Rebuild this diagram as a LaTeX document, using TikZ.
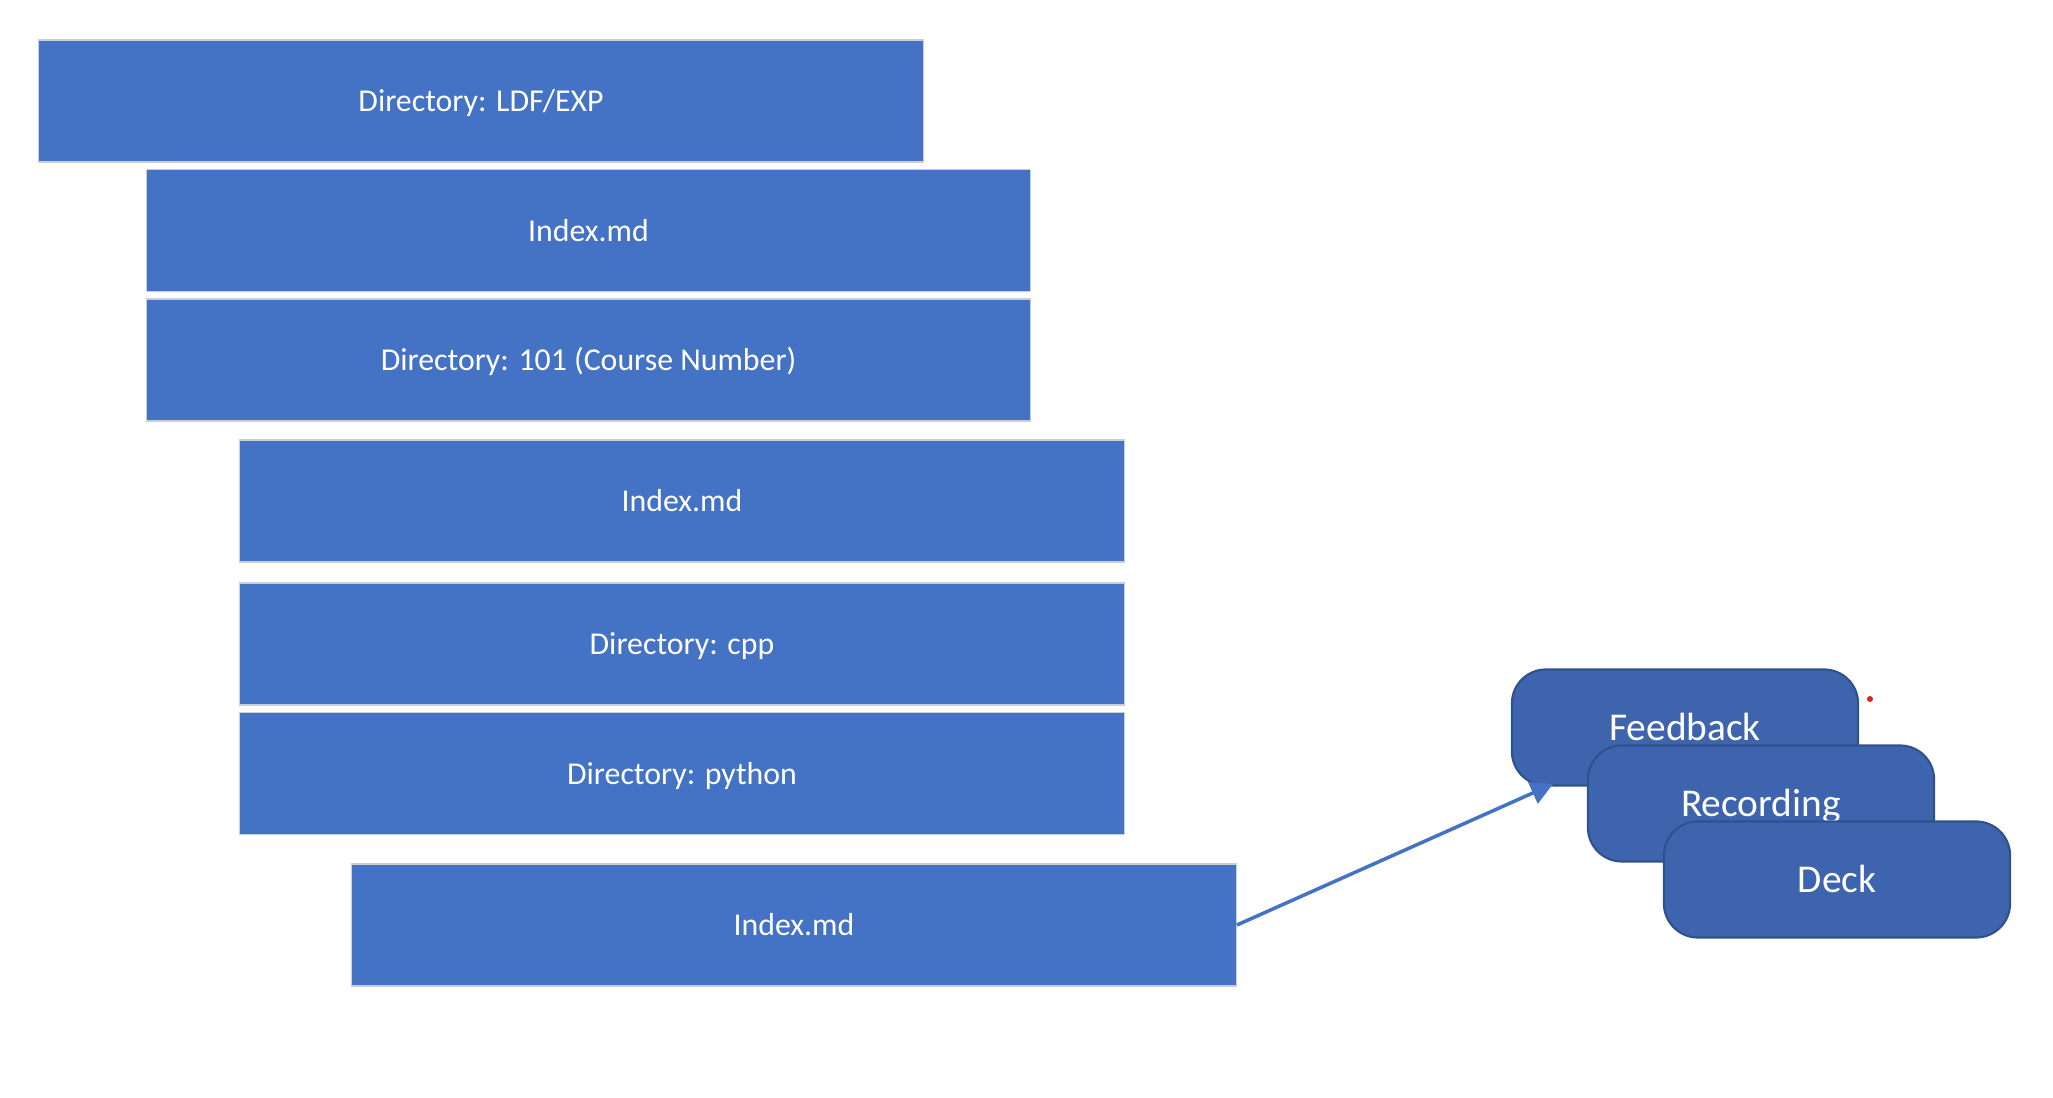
\documentclass[tikz,border=0pt]{standalone}
\usepackage{fontspec}
\setmainfont{Carlito}
\usepackage{tikz}
\usetikzlibrary{arrows.meta,calc}
\definecolor{OfficeBlue}{HTML}{4472C4}
\definecolor{CardBlue}{HTML}{3E64AD}
\definecolor{CardEdge}{HTML}{2F528F}
\definecolor{BoxEdge}{HTML}{C9CFD8}
\definecolor{Dot}{HTML}{E02020}
\tikzset{
  folder/.style={rectangle,fill=OfficeBlue,draw=BoxEdge,line width=0.4pt,
    minimum width=8.84cm,minimum height=1.22cm,inner sep=0pt,
    text height=0.7em,text depth=0.1em,
    text=white,font=\fontsize{9.05}{11}\selectfont},
  card/.style={rectangle,rounded corners=0.34cm,fill=CardBlue,draw=CardEdge,
    line width=0.6pt,minimum width=3.46cm,minimum height=1.16cm,inner sep=0pt,
    text height=0.78em,text depth=0.05em,
    text=white,font=\fontsize{11.2}{13}\selectfont},
}
\newcommand{\folderrow}[4]{%
  \node[folder] (#1) at (#2,#3) {#4};
}

\begin{document}
\begin{tikzpicture}[x=0.01cm,y=-0.01cm]
      \useasboundingbox (0,0) rectangle (2053,1098);
      \folderrow{root}{481}{101}{Directory: LDF/EXP}
      \folderrow{rootidx}{588.5}{230.5}{Index.md}
      \folderrow{course}{588.5}{360}{Directory: 101 (Course Number)}
      \folderrow{courseidx}{682}{501}{Index.md}
      \folderrow{cpp}{682}{644}{Directory: cpp}
      \folderrow{python}{682}{773.5}{Directory: python}
      \folderrow{langidx}{794}{925}{Index.md}

      \node[card] (feedback) at (1685,727.5) {Feedback};
      \coordinate (fbtip) at (1553,784);
      \draw[OfficeBlue,line width=1pt,-{Triangle[length=0.22cm,width=0.23cm]}]
        (langidx.east) -- (fbtip);
      \node[card] (recording) at (1761,803.5) {Recording};
      \node[card] (deck) at (1837,879.5) {Deck};
      \fill[Dot] (1870,699) circle (3);
    \end{tikzpicture}
\end{document}
